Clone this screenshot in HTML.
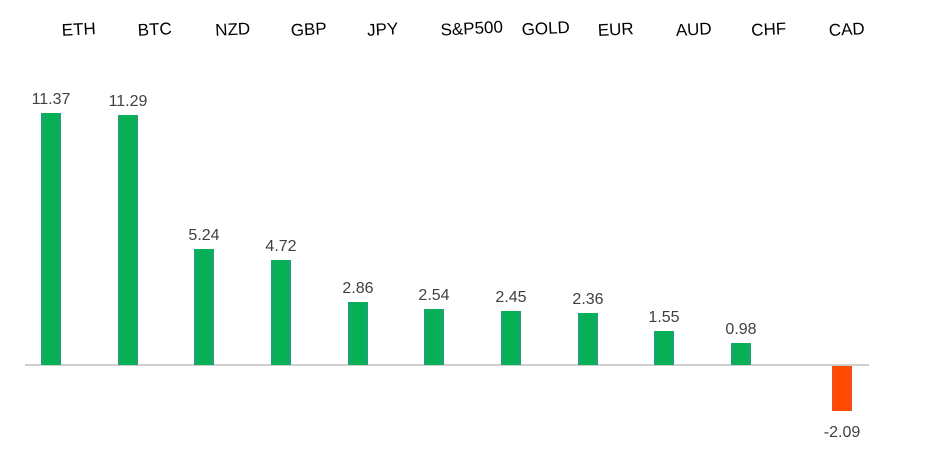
<!DOCTYPE html>
<html><head><meta charset="utf-8"><style>
body{margin:0;background:#fff;}
svg{display:block;font-family:"Liberation Sans",sans-serif;}
</style></head><body>
<svg width="929" height="474" viewBox="0 0 929 474">
<defs>
<linearGradient id="g" x1="0" x2="1" y1="0" y2="0">
<stop offset="0" stop-color="#1fa07a"/><stop offset="0.2" stop-color="#08b055"/><stop offset="0.8" stop-color="#08b055"/><stop offset="1" stop-color="#1fa07a"/>
</linearGradient>
<linearGradient id="r" x1="0" x2="1" y1="0" y2="0">
<stop offset="0" stop-color="#f05020"/><stop offset="0.2" stop-color="#ff4a00"/><stop offset="0.8" stop-color="#ff4a00"/><stop offset="1" stop-color="#f05020"/>
</linearGradient>
</defs>
<line x1="25" y1="365" x2="869" y2="365" stroke="#bfbfbf" stroke-width="1.5"/>
<g fill="url(#g)">
<rect x="41" y="113" width="20" height="252"/>
<rect x="118" y="115" width="20" height="250"/>
<rect x="194" y="249" width="20" height="116"/>
<rect x="271" y="260" width="20" height="105"/>
<rect x="348" y="302" width="20" height="63"/>
<rect x="424" y="309" width="20" height="56"/>
<rect x="501" y="311" width="20" height="54"/>
<rect x="578" y="313" width="20" height="52"/>
<rect x="654" y="331" width="20" height="34"/>
<rect x="731" y="343" width="20" height="22"/>
</g>
<rect x="832" y="366" width="20" height="45" fill="url(#r)"/>
<g font-size="16" fill="#404040" text-anchor="middle">
<text x="51" y="104">11.37</text>
<text x="128" y="106">11.29</text>
<text x="204" y="240">5.24</text>
<text x="281" y="251">4.72</text>
<text x="358" y="293">2.86</text>
<text x="434" y="300">2.54</text>
<text x="511" y="302">2.45</text>
<text x="588" y="304">2.36</text>
<text x="664" y="322">1.55</text>
<text x="741" y="334">0.98</text>
<text x="842" y="437">-2.09</text>
</g>
<g font-size="17" fill="#000" text-anchor="middle">
<text transform="translate(79,35) rotate(-3)">ETH</text>
<text transform="translate(155,35) rotate(-3)">BTC</text>
<text transform="translate(233,35) rotate(-3)">NZD</text>
<text transform="translate(309,35) rotate(-3)">GBP</text>
<text transform="translate(383,35) rotate(-3)">JPY</text>
<text transform="translate(472,34) rotate(-3)">S&amp;P500</text>
<text transform="translate(546,34) rotate(-3)">GOLD</text>
<text transform="translate(616,35) rotate(-3)">EUR</text>
<text transform="translate(694,35) rotate(-3)">AUD</text>
<text transform="translate(769,35) rotate(-3)">CHF</text>
<text transform="translate(847,35) rotate(-3)">CAD</text>
</g>
</svg>
</body></html>
